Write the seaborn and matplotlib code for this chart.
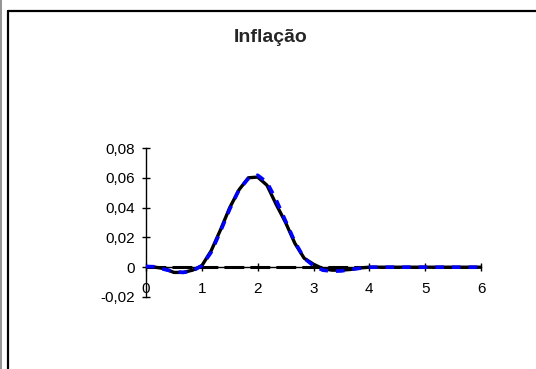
import numpy as np
import pandas as pd
import matplotlib
matplotlib.use("Agg")
import matplotlib.pyplot as plt
from matplotlib.lines import Line2D
import seaborn as sns

# Horizon (years), sampled every two months
horizon = [k / 6 for k in range(37)]

# Inflation response: model (solid black)
inflacao_modelo = [
    0.0, 0.0, -0.001, -0.0035, -0.0035, -0.002, 0.001, 0.011, 0.025, 0.040,
    0.052, 0.060, 0.0605, 0.055, 0.042, 0.030, 0.016, 0.006, 0.002, -0.001,
    -0.002, -0.002, -0.0015, -0.0005, 0.0, 0.0, 0.0, 0.0, 0.0, 0.0,
    0.0, 0.0, 0.0, 0.0, 0.0, 0.0, 0.0,
]

# Inflation response: approximation (dashed blue)
inflacao_aprox = [
    0.0005, 0.0003, -0.0015, -0.003, -0.0035, -0.0025, 0.001, 0.010, 0.024, 0.039,
    0.052, 0.0595, 0.0617, 0.057, 0.045, 0.031, 0.017, 0.006, 0.001, -0.002,
    -0.0027, -0.0025, -0.0015, -0.0007, 0.0, 0.0, 0.0, 0.0, 0.0, 0.0,
    0.0, 0.0, 0.0, 0.0, 0.0, 0.0, 0.0,
]

# Steady-state reference (dashed black)
referencia_x = [0, 6]
referencia_y = [0.0, 0.0]

x_ticks = [0, 1, 2, 3, 4, 5, 6]
x_labels = ["0", "1", "2", "3", "4", "5", "6"]
y_ticks = [-0.02, 0.0, 0.02, 0.04, 0.06, 0.08]
y_labels = ["-0,02", "0", "0,02", "0,04", "0,06", "0,08"]
titulo = "Inflação"

sns.set_style("white")
plt.rcParams["font.family"] = ["Liberation Sans", "DejaVu Sans"]

fig = plt.figure(figsize=(5.36, 3.69), dpi=100)
ax = fig.add_axes([146 / 536, 1 - 297 / 369, 335 / 536, 149 / 369])

df_ref = pd.DataFrame({"x": referencia_x, "y": referencia_y})
df = pd.DataFrame({"x": horizon, "modelo": inflacao_modelo, "aprox": inflacao_aprox})

line_r = sns.lineplot(data=df_ref, x="x", y="y", ax=ax, color="black", lw=2.2,
                      zorder=3).lines[-1]
line_r.set_dashes([6.5, 2])
sns.lineplot(data=df, x="x", y="modelo", ax=ax, color="black", lw=2.4, zorder=4)
line_b = sns.lineplot(data=df, x="x", y="aprox", ax=ax, color="#0000ff", lw=2.6,
                      zorder=5).lines[-1]
line_b.set_dashes([2.4, 2.2])

ax.set_xlim(0, 6)
ax.set_ylim(-0.02, 0.08)
ax.set_xlabel("")
ax.set_ylabel("")

for s in ["top", "right"]:
    ax.spines[s].set_visible(False)
ax.spines["bottom"].set_position(("data", 0))
ax.spines["left"].set_position(("data", 0))
for s in ["bottom", "left"]:
    ax.spines[s].set_color("black")
    ax.spines[s].set_linewidth(1.0)
    ax.spines[s].set_zorder(2)

ax.set_xticks(x_ticks)
ax.set_xticklabels(x_labels)
ax.set_yticks(y_ticks)
ax.set_yticklabels(y_labels)
ax.tick_params(axis="x", bottom=True, direction="inout", length=6, width=1,
               color="black", pad=8, labelsize=11, labelcolor="black")
ax.tick_params(axis="y", left=True, direction="inout", length=6, width=1,
               color="black", pad=5, labelsize=11, labelcolor="black")
ax.patch.set_alpha(0)

fig.text(271 / 536, 1 - 37 / 369, titulo, ha="center", va="center",
         fontsize=14, fontweight="bold")

# Chart-area frame and outer edge
fig.add_artist(Line2D([7.5 / 536, 7.5 / 536], [0, 1 - 11 / 369], color="black", lw=1.6))
fig.add_artist(Line2D([7.5 / 536, 1], [1 - 11 / 369, 1 - 11 / 369], color="black", lw=1.6))
fig.add_artist(Line2D([0.6 / 536, 0.6 / 536], [0, 1], color="#808080", lw=1.2))

fig.savefig("out.png", dpi=100)
